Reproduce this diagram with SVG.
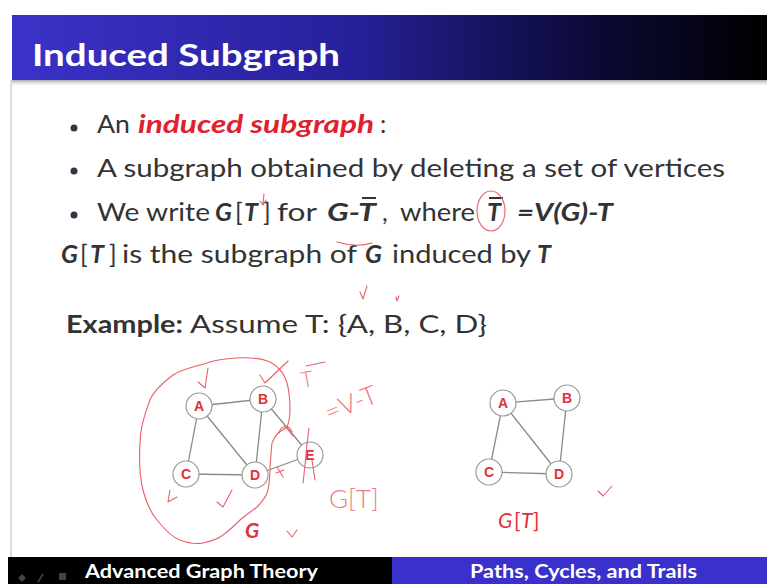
<svg xmlns="http://www.w3.org/2000/svg" width="767" height="584" viewBox="0 0 767 584">
<defs>
<linearGradient id="tb" x1="0" y1="0" x2="1" y2="0">
<stop offset="0" stop-color="#3b32c8"/>
<stop offset="0.45" stop-color="#27209a"/>
<stop offset="0.75" stop-color="#0d0b3c"/>
<stop offset="1" stop-color="#000000"/>
</linearGradient>
<linearGradient id="sh" x1="0" y1="0" x2="0" y2="1">
<stop offset="0" stop-color="#a8aaa0"/>
<stop offset="1" stop-color="#ffffff" stop-opacity="0"/>
</linearGradient>
<style>
.body{font-family:Lato,"Open Sans","Liberation Sans",sans-serif;font-size:25px;fill:#333}
.bi{font-weight:bold;font-style:italic}
.b{font-weight:bold}
.red{fill:#e0202e}
.edge{stroke:#8a8a8a;stroke-width:1.3;fill:none}
.node circle{fill:#fff;stroke:#9a9a9a;stroke-width:1.2}
.node text{font-family:"Liberation Sans",Arial,sans-serif;font-size:14px;font-weight:bold;fill:#e0303a;text-anchor:middle}
.ink{stroke:#e8606a;stroke-width:1.1;fill:none;stroke-linecap:round;stroke-linejoin:round}
.hand{font-family:Lato,"DejaVu Sans",sans-serif;font-weight:300;fill:#ee7a82}
.foot{font-family:Lato,"Open Sans","Liberation Sans",sans-serif;font-size:18px;font-weight:bold;fill:#fff}
</style>
</defs>
<rect width="767" height="584" fill="#fff"/>
<!-- title bar -->
<rect x="12" y="15" width="755" height="65" fill="url(#tb)"/>
<rect x="12" y="80" width="755" height="7" fill="url(#sh)"/>
<line x1="11" y1="80" x2="11" y2="558" stroke="#b8b8b8" stroke-width="1"/>
<text x="32" y="66" font-family="Lato,Open Sans,Liberation Sans,sans-serif" font-size="31" font-weight="bold" fill="#fff" textLength="308" lengthAdjust="spacingAndGlyphs">Induced Subgraph</text>

<!-- bullets -->
<g fill="#334">
<circle cx="74" cy="128" r="3.5"/>
<circle cx="74" cy="171" r="3.5"/>
<circle cx="74" cy="215" r="3.5"/>
</g>
<text class="body" x="97" y="133" textLength="33" lengthAdjust="spacingAndGlyphs">An</text>
<text class="body bi red" x="138" y="133" textLength="236" lengthAdjust="spacingAndGlyphs">induced subgraph</text>
<text class="body" x="380" y="133">:</text>
<text class="body" x="97" y="177" textLength="628" lengthAdjust="spacingAndGlyphs">A subgraph obtained by deleting a set of vertices</text>
<text class="body" x="97" y="221" textLength="113" lengthAdjust="spacingAndGlyphs">We write</text>
<text class="body" y="221"><tspan class="bi" x="215">G</tspan><tspan x="235">[</tspan><tspan class="bi" x="244">T</tspan><tspan x="263">]</tspan></text>
<text class="body" x="277" y="221" textLength="40" lengthAdjust="spacingAndGlyphs">for</text>
<text class="body bi" x="327" y="221" textLength="49" lengthAdjust="spacingAndGlyphs">G-T</text>
<line x1="362" y1="198" x2="376" y2="198" stroke="#333" stroke-width="2"/>
<text class="body" x="382" y="221">,</text>
<text class="body" x="400" y="221" textLength="75" lengthAdjust="spacingAndGlyphs">where</text>
<text class="body bi" x="487" y="221">T</text>
<line x1="489" y1="198" x2="503" y2="198" stroke="#333" stroke-width="2"/>
<text class="body bi" x="517" y="221" textLength="96" lengthAdjust="spacingAndGlyphs">=V(G)-T</text>
<text class="body" y="263"><tspan class="bi" x="61">G</tspan><tspan x="80">[</tspan><tspan class="bi" x="90">T</tspan><tspan x="109">]</tspan></text>
<text class="body" x="122" y="263" textLength="235" lengthAdjust="spacingAndGlyphs">is the subgraph of</text>
<text class="body bi" x="365" y="263">G</text>
<text class="body" x="392" y="263" textLength="139" lengthAdjust="spacingAndGlyphs">induced by</text>
<text class="body bi" x="537" y="263">T</text>
<text class="body b" x="66" y="333" textLength="117" lengthAdjust="spacingAndGlyphs">Example:</text>
<text class="body" x="190" y="333" textLength="297" lengthAdjust="spacingAndGlyphs">Assume T: {A, B, C, D}</text>

<!-- connectors -->
<g id="edges">
<line class="edge" x1="199" y1="406" x2="263" y2="399"/>
<line class="edge" x1="199" y1="406" x2="186" y2="474"/>
<line class="edge" x1="199" y1="406" x2="255" y2="475"/>
<line class="edge" x1="263" y1="399" x2="255" y2="475"/>
<line class="edge" x1="263" y1="399" x2="310" y2="455"/>
<line class="edge" x1="186" y1="474" x2="255" y2="475"/>
<line class="edge" x1="255" y1="475" x2="310" y2="455"/>
<line class="edge" x1="503" y1="403" x2="567" y2="398"/>
<line class="edge" x1="503" y1="403" x2="489" y2="472"/>
<line class="edge" x1="503" y1="403" x2="559" y2="474"/>
<line class="edge" x1="567" y1="398" x2="559" y2="474"/>
<line class="edge" x1="489" y1="472" x2="559" y2="474"/>
</g>
<!-- graph G nodes -->
<g id="gA" class="node"><circle cx="199" cy="406" r="13"/><text x="199" y="411">A</text></g>
<g id="gB" class="node"><circle cx="263" cy="399" r="13"/><text x="263" y="404">B</text></g>
<g id="gC" class="node"><circle cx="186" cy="474" r="13"/><text x="186" y="479">C</text></g>
<g id="gD" class="node"><circle cx="255" cy="475" r="13"/><text x="255" y="480">D</text></g>
<g id="gE" class="node"><circle cx="310" cy="455" r="13"/><text x="310" y="460">E</text></g>
<!-- graph G[T] nodes -->
<g id="tA" class="node"><circle cx="503" cy="403" r="13"/><text x="503" y="408">A</text></g>
<g id="tB" class="node"><circle cx="567" cy="398" r="13"/><text x="567" y="403">B</text></g>
<g id="tC" class="node"><circle cx="489" cy="472" r="13"/><text x="489" y="477">C</text></g>
<g id="tD" class="node"><circle cx="559" cy="474" r="13"/><text x="559" y="479">D</text></g>

<text x="245" y="538" font-family="Lato,Open Sans,Liberation Sans,sans-serif" font-size="21" font-weight="bold" font-style="italic" fill="#e0303a">G</text>
<text y="528" font-family="Lato,Open Sans,Liberation Sans,sans-serif" font-size="21" fill="#e0303a"><tspan x="498" font-style="italic">G</tspan><tspan x="514">[</tspan><tspan x="521" font-style="italic">T</tspan><tspan x="533">]</tspan></text>

<!-- handwritten annotations -->
<g id="ink">
<path class="ink" d="M250,358 C235,357 215,360 207,363 C190,368 180,370 173,375 C160,385 153,392 150,400 C143,418 140,430 140,443 C139,460 140,478 143,490 C147,505 151,513 157,520 C165,530 172,537 180,540 C190,544 197,544 203,543 C212,541 218,539 223,535 C230,530 235,525 240,520 C247,514 252,511 257,507 C262,502 265,498 267,493 C270,484 270,475 270,467 C271,458 271,450 272,443 C274,438 276,435 278,433 C282,430 285,429 287,427 C290,420 290,415 290,410 C290,400 289,390 287,383 C285,377 283,373 280,370 C277,366 274,364 270,362 C263,359 257,358 250,358"/>
<path class="ink" d="M198,382 L205,388 L208,368"/>
<path class="ink" d="M260,375 L265,383 L288,361"/>
<path class="ink" d="M170,490 L168,502 L177,497"/>
<path class="ink" d="M217,502 L223,507 L232,490"/>
<path class="ink" d="M287,531 L292,537 L297,530"/>
<path class="ink" d="M598,491 L603,496 L612,486"/>
<path class="ink" d="M360,292 L363,299 L367,286"/>
<path class="ink" d="M396,297 L397,301 L399,296"/>
<path class="ink" d="M279,433 C281,425 289,424 292,432 M285,426 L293,436"/>
<path class="ink" d="M309,428 C306,450 305,468 303,483"/>
<path class="ink" d="M312,460 L315,480"/>
<path class="ink" d="M277,467 L283,477 M276,473 L284,470"/>
<path class="ink" d="M264,194 L263,204 M260,201 L263,205 L266,200"/>
<path class="ink" d="M337,242 C350,246 362,246 372,243"/>
<ellipse class="ink" cx="491" cy="211" rx="14" ry="20"/>
<text class="hand" x="302" y="388" font-size="22" transform="rotate(-10 302 388)">T</text>
<path class="ink" d="M306,366 L325,362"/>
<text class="hand" x="329" y="422" font-size="26" transform="rotate(-22 329 422)">=V-T</text>
<text class="hand" x="329" y="508" font-size="26">G[T]</text>
</g>

<!-- footer -->
<rect x="8" y="557" width="384" height="27" fill="#000"/>
<rect x="392" y="557" width="375" height="27" fill="#3a30cc"/>
<g fill="#444"><path d="M18,578 L22,574 L26,578 L22,582 Z"/><line x1="38" y1="582" x2="43" y2="574" stroke="#444" stroke-width="1.5"/><rect x="59" y="573" width="7" height="7"/></g>
<text class="foot" x="85" y="578" textLength="233" lengthAdjust="spacingAndGlyphs">Advanced Graph Theory</text>
<text class="foot" x="470" y="578" textLength="227" lengthAdjust="spacingAndGlyphs">Paths, Cycles, and Trails</text>
</svg>
